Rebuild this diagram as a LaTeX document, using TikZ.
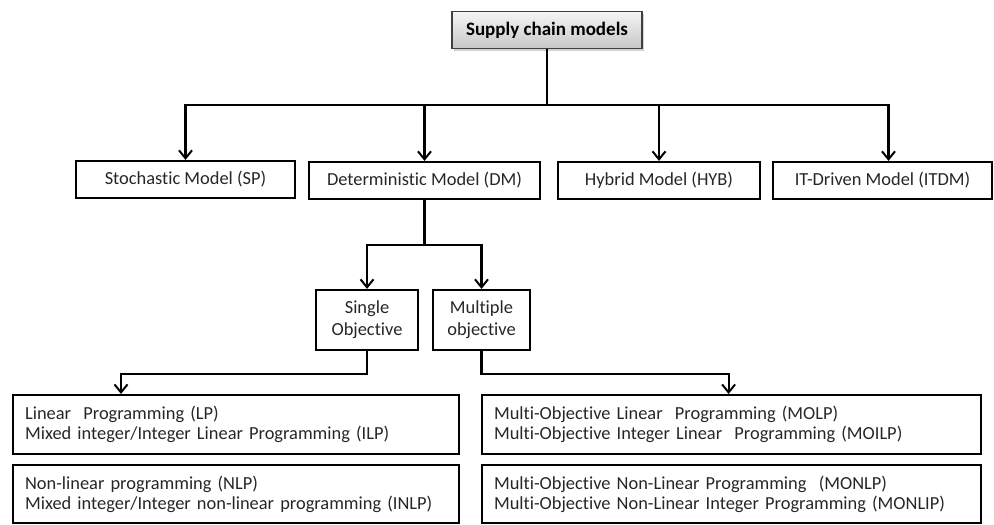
\documentclass[tikz,border=0pt]{standalone}
\usepackage{fontspec}
\setmainfont{Carlito}[Ligatures=NoCommon]
\usetikzlibrary{arrows.meta,shadows}

\begin{document}
\begin{tikzpicture}[x=1pt,y=-1pt,line width=2.2pt,
 mb/.style={draw,rectangle,minimum height=37pt,inner sep=0pt,text=black!85,font=\fontsize{18.4}{20}\selectfont},
 ob/.style={draw,rectangle,minimum height=60pt,inner sep=0pt,align=center,text=black!85,font=\fontsize{18.4}{22}\selectfont},
 pb/.style={draw,rectangle,anchor=north west,inner xsep=12pt,inner ysep=0pt,minimum height=59pt,align=left,text=black!85,font=\fontsize{18.4}{20}\selectfont},
 ar/.style={-{Straight Barb[length=8pt,width=13pt,line width=2pt]}}]
\useasboundingbox (0,0) rectangle (994,525);
% top
\node[mb,minimum width=190pt,line width=1.2pt,draw=black!75,top color=white!96!black,bottom color=black!22,
 drop shadow={shadow xshift=2pt,shadow yshift=-2pt,opacity=.35},text=black,font=\fontsize{19}{20}\selectfont\bfseries] (scm) at (547,30) {Supply chain models};
\coordinate (bus) at (547,105);
% model types
\node[mb,minimum width=219pt] (sp) at (185.5,179.5) {Stochastic Model (SP)};
\node[mb,minimum width=231pt] (dm) at (424.5,180.5) {Deterministic Model (DM)};
\node[mb,minimum width=202pt] (hyb) at (659,180.5) {Hybrid Model (HYB)};
\node[mb,minimum width=219pt] (itdm) at (882.5,180.5) {IT-Driven Model (ITDM)};
\draw[ar] (scm.south) -- (bus) -| (sp.north);
\draw[ar] (scm.south) -- (bus) -| (dm.north);
\draw[ar] (scm.south) -- (bus) -| (hyb.north);
\draw[ar] (scm.south) -- (bus) -| ([xshift=6pt]itdm.north);
% objectives
\node[ob,minimum width=102pt] (so) at (367,320) {Single\\Objective};
\node[ob,minimum width=97pt] (mo) at (481.5,320) {Multiple\\objective};
\draw[ar] (dm.south) -- ++(0,45) -| (so.north);
\draw[ar] (dm.south) -- ++(0,45) -| (mo.north);
% programming classes
\node[pb,text width=422pt] (lp) at (12,394) {Linear~ Programming (LP)\\Mixed integer/Integer Linear Programming (ILP)};
\node[pb,text width=422pt,minimum height=58pt] (nlp) at (12,464) {Non-linear programming (NLP)\\Mixed integer/Integer non-linear programming (INLP)};
\node[pb,text width=475pt] (molp) at (481,394) {Multi-Objective Linear~ Programming (MOLP)\\Multi-Objective Integer Linear~ Programming (MOILP)};
\node[pb,text width=475pt,minimum height=58pt] (monlp) at (481,464) {Multi-Objective Non-Linear Programming~ (MONLP)\\Multi-Objective Non-Linear Integer Programming (MONLIP)};
\draw[ar] (so.south) -- ++(0,23) -| ([xshift=109pt]lp.north west);
\draw[ar] (mo.south) -- ++(0,23) -| ([xshift=-3pt]molp.north);
\end{tikzpicture}
\end{document}
